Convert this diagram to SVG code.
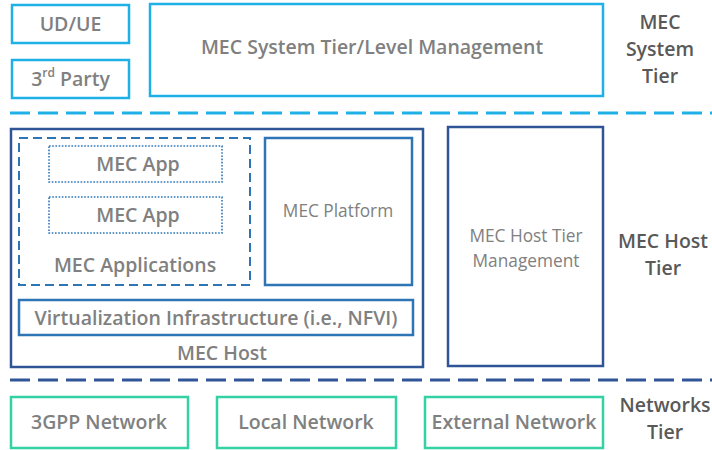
<svg xmlns="http://www.w3.org/2000/svg" width="712" height="450" viewBox="0 0 712 450">
<style>
text{font-family:"Open Sans","Liberation Sans",Arial,sans-serif;text-anchor:middle;dominant-baseline:central;font-weight:600}
.t{fill:#808080;font-size:19.5px}
.s{fill:#808080;font-size:17.3px;font-weight:500}
.tier{fill:#595959;font-size:19.5px}
.sys{fill:#fff;stroke:#1fb0e8;stroke-width:2.5}
.host{fill:#fff;stroke:#2f5597;stroke-width:2.5}
.inner{fill:#fff;stroke:#2e75b6;stroke-width:2.5}
.net{fill:#fff;stroke:#33d1a3;stroke-width:2.5}
.apps{fill:none;stroke:#2e75b6;stroke-width:2;stroke-dasharray:9 5}
.app{fill:#fff;stroke:#2e75b6;stroke-width:1.6;stroke-dasharray:1.6 1.6}
</style>
<rect width="712" height="450" fill="#fff"/>
<g id="connectors">
<line x1="10" y1="113" x2="712" y2="113" stroke="#1fb0e8" stroke-width="3" stroke-dasharray="20 8"/>
<line x1="10" y1="380" x2="712" y2="380" stroke="#2f5597" stroke-width="3" stroke-dasharray="20 8"/>
</g>
<g id="ud-ue"><rect class="sys" x="12" y="5" width="117" height="38"/><text class="t" x="70.5" y="23">UD/UE</text></g>
<g id="third-party"><rect class="sys" x="12" y="60" width="117" height="38"/><text class="t" x="70.5" y="78">3<tspan font-size="12" dy="-6">rd</tspan><tspan dy="6"> Party</tspan></text></g>
<g id="mec-system-mgmt"><rect class="sys" x="150" y="4" width="453" height="92"/><text class="t" x="372" y="46">MEC System Tier/Level Management</text></g>
<g id="mec-system-tier"><text class="tier" x="660" y="21">MEC</text><text class="tier" x="660" y="48">System</text><text class="tier" x="660" y="75">Tier</text></g>
<g id="mec-host"><rect class="host" x="11" y="129" width="412" height="238"/><text class="t" x="222" y="352">MEC Host</text></g>
<g id="mec-applications"><rect class="apps" x="19" y="138" width="231" height="147"/><text class="t" x="135" y="264">MEC Applications</text></g>
<g id="mec-app-1"><rect class="app" x="49" y="146" width="173" height="36"/><text class="t" x="138" y="163">MEC App</text></g>
<g id="mec-app-2"><rect class="app" x="49" y="197" width="173" height="36"/><text class="t" x="138" y="214">MEC App</text></g>
<g id="mec-platform"><rect class="inner" x="265" y="138" width="147" height="147"/><text class="s" x="338" y="210">MEC Platform</text></g>
<g id="virtualization"><rect class="inner" x="19" y="300" width="394" height="35"/><text class="t" x="216" y="317">Virtualization Infrastructure (i.e., NFVI)</text></g>
<g id="mec-host-tier-mgmt"><rect class="host" x="448" y="127" width="155" height="239"/><text class="s" x="526" y="235">MEC Host Tier</text><text class="s" x="526" y="260">Management</text></g>
<g id="mec-host-tier"><text class="tier" x="663" y="240">MEC Host</text><text class="tier" x="663" y="267">Tier</text></g>
<g id="net-3gpp"><rect class="net" x="11" y="397" width="177" height="51"/><text class="t" x="99" y="421">3GPP Network</text></g>
<g id="net-local"><rect class="net" x="217" y="397" width="179" height="51"/><text class="t" x="306" y="421">Local Network</text></g>
<g id="net-external"><rect class="net" x="425" y="397" width="178" height="51"/><text class="t" x="514" y="421">External Network</text></g>
<g id="networks-tier"><text class="tier" x="665" y="404">Networks</text><text class="tier" x="665" y="431">Tier</text></g>
</svg>
